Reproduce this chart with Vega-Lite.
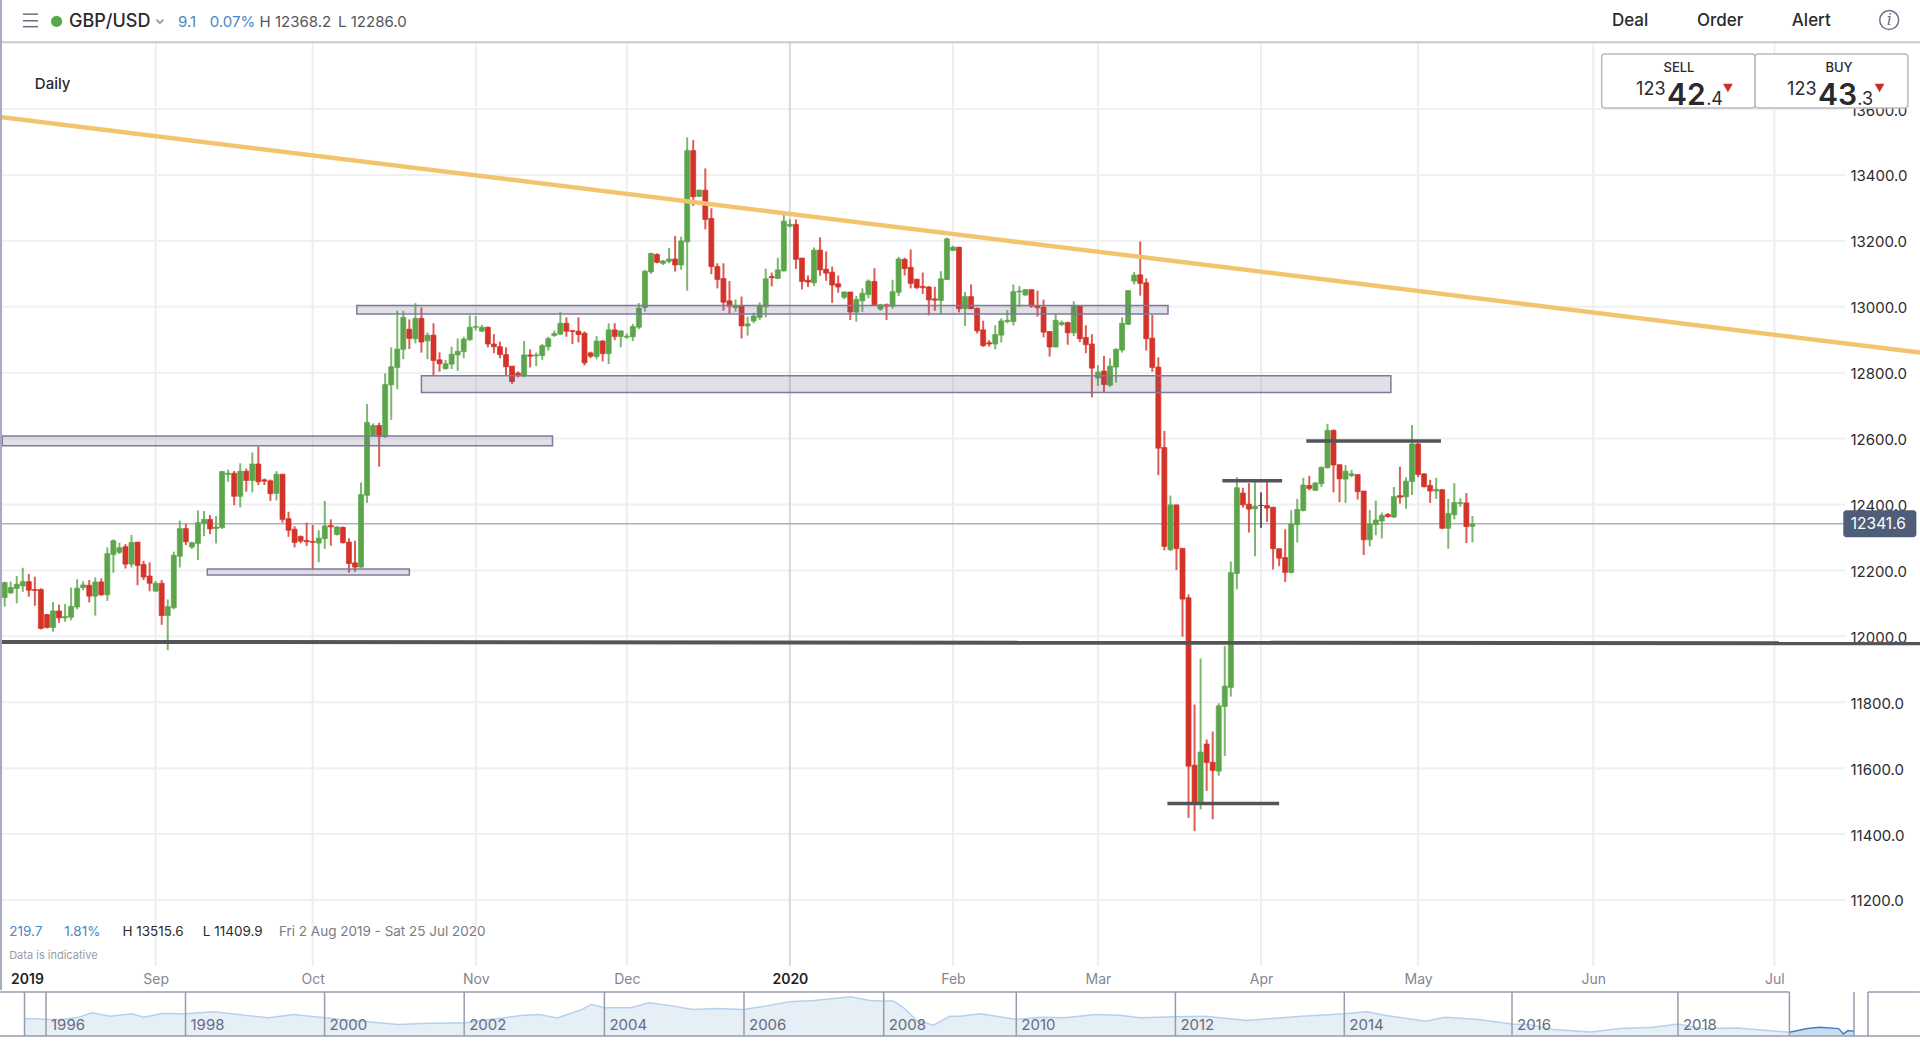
{"$schema":"https://vega.github.io/schema/vega-lite/v6.json","width":1920,"height":1042,"padding":0,"autosize":{"type":"none"},"background":"#ffffff",
"config":{"view":{"stroke":null},"text":{"font":"Inter"}},
"datasets":{
"candles":[
{"i":0,"o":12118,"h":12166,"l":12090,"c":12163},{"i":1,"o":12132,"h":12166,"l":12128,"c":12148},{"i":2,"o":12145,"h":12183,"l":12100,"c":12158},{"i":3,"o":12153,"h":12208,"l":12135,"c":12166},{"i":4,"o":12166,"h":12189,"l":12120,"c":12140},{"i":5,"o":12142,"h":12181,"l":12093,"c":12139},{"i":6,"o":12142,"h":12146,"l":12021,"c":12024},{"i":7,"o":12066,"h":12068,"l":12024,"c":12027},{"i":8,"o":12027,"h":12104,"l":12014,"c":12077},{"i":9,"o":12077,"h":12096,"l":12041,"c":12056},
{"i":10,"o":12056,"h":12098,"l":12044,"c":12060},{"i":11,"o":12058,"h":12148,"l":12049,"c":12091},{"i":12,"o":12089,"h":12173,"l":12082,"c":12146},{"i":13,"o":12148,"h":12167,"l":12140,"c":12156},{"i":14,"o":12155,"h":12171,"l":12103,"c":12122},{"i":15,"o":12122,"h":12179,"l":12063,"c":12165},{"i":16,"o":12165,"h":12176,"l":12123,"c":12126},{"i":17,"o":12126,"h":12270,"l":12108,"c":12251},{"i":18,"o":12248,"h":12294,"l":12193,"c":12290},{"i":19,"o":12255,"h":12284,"l":12250,"c":12269},
{"i":20,"o":12272,"h":12280,"l":12206,"c":12219},{"i":21,"o":12219,"h":12308,"l":12209,"c":12285},{"i":22,"o":12286,"h":12286,"l":12155,"c":12215},{"i":23,"o":12218,"h":12229,"l":12171,"c":12180},{"i":24,"o":12183,"h":12224,"l":12137,"c":12161},{"i":25,"o":12137,"h":12168,"l":12136,"c":12161},{"i":26,"o":12161,"h":12171,"l":12035,"c":12063},{"i":27,"o":12063,"h":12112,"l":11958,"c":12090},{"i":28,"o":12087,"h":12257,"l":12082,"c":12246},{"i":29,"o":12243,"h":12351,"l":12209,"c":12327},
{"i":30,"o":12327,"h":12341,"l":12277,"c":12287},{"i":31,"o":12271,"h":12287,"l":12265,"c":12284},{"i":32,"o":12282,"h":12382,"l":12232,"c":12345},{"i":33,"o":12343,"h":12380,"l":12304,"c":12355},{"i":34,"o":12355,"h":12368,"l":12310,"c":12326},{"i":35,"o":12327,"h":12365,"l":12282,"c":12332},{"i":36,"o":12330,"h":12502,"l":12326,"c":12500},{"i":37,"o":12491,"h":12506,"l":12469,"c":12495},{"i":38,"o":12495,"h":12502,"l":12398,"c":12425},{"i":39,"o":12425,"h":12525,"l":12391,"c":12501},
{"i":40,"o":12501,"h":12509,"l":12439,"c":12473},{"i":41,"o":12473,"h":12558,"l":12437,"c":12523},{"i":42,"o":12523,"h":12576,"l":12459,"c":12469},{"i":43,"o":12475,"h":12479,"l":12459,"c":12471},{"i":44,"o":12472,"h":12476,"l":12411,"c":12433},{"i":45,"o":12434,"h":12501,"l":12413,"c":12492},{"i":46,"o":12492,"h":12492,"l":12345,"c":12355},{"i":47,"o":12357,"h":12378,"l":12302,"c":12322},{"i":48,"o":12325,"h":12334,"l":12270,"c":12285},{"i":49,"o":12303,"h":12306,"l":12282,"c":12289},
{"i":50,"o":12291,"h":12345,"l":12274,"c":12287},{"i":51,"o":12288,"h":12338,"l":12203,"c":12285},{"i":52,"o":12283,"h":12322,"l":12225,"c":12298},{"i":53,"o":12296,"h":12411,"l":12265,"c":12335},{"i":54,"o":12336,"h":12355,"l":12275,"c":12332},{"i":55,"o":12309,"h":12334,"l":12306,"c":12332},{"i":56,"o":12331,"h":12333,"l":12282,"c":12284},{"i":57,"o":12286,"h":12298,"l":12193,"c":12221},{"i":58,"o":12223,"h":12290,"l":12196,"c":12210},{"i":59,"o":12210,"h":12467,"l":12208,"c":12430},
{"i":60,"o":12428,"h":12705,"l":12405,"c":12649},{"i":61,"o":12608,"h":12646,"l":12606,"c":12640},{"i":62,"o":12640,"h":12648,"l":12515,"c":12606},{"i":63,"o":12606,"h":12798,"l":12602,"c":12764},{"i":64,"o":12763,"h":12877,"l":12657,"c":12818},{"i":65,"o":12816,"h":12988,"l":12750,"c":12872},{"i":66,"o":12871,"h":12987,"l":12841,"c":12968},{"i":67,"o":12932,"h":12962,"l":12872,"c":12904},{"i":68,"o":12903,"h":13011,"l":12889,"c":12965},{"i":69,"o":12965,"h":12998,"l":12861,"c":12893},
{"i":70,"o":12897,"h":12922,"l":12841,"c":12914},{"i":71,"o":12914,"h":12950,"l":12790,"c":12837},{"i":72,"o":12839,"h":12862,"l":12803,"c":12827},{"i":73,"o":12812,"h":12839,"l":12810,"c":12827},{"i":74,"o":12826,"h":12879,"l":12811,"c":12856},{"i":75,"o":12854,"h":12904,"l":12806,"c":12865},{"i":76,"o":12864,"h":12909,"l":12844,"c":12902},{"i":77,"o":12900,"h":12974,"l":12897,"c":12938},{"i":78,"o":12938,"h":12972,"l":12928,"c":12940},{"i":79,"o":12926,"h":12945,"l":12923,"c":12938},
{"i":80,"o":12938,"h":12940,"l":12877,"c":12887},{"i":81,"o":12887,"h":12917,"l":12859,"c":12879},{"i":82,"o":12879,"h":12894,"l":12844,"c":12855},{"i":83,"o":12855,"h":12877,"l":12791,"c":12818},{"i":84,"o":12820,"h":12820,"l":12766,"c":12773},{"i":85,"o":12799,"h":12804,"l":12786,"c":12794},{"i":86,"o":12790,"h":12896,"l":12786,"c":12854},{"i":87,"o":12854,"h":12871,"l":12816,"c":12850},{"i":88,"o":12851,"h":12861,"l":12820,"c":12854},{"i":89,"o":12852,"h":12887,"l":12839,"c":12882},
{"i":90,"o":12879,"h":12909,"l":12867,"c":12903},{"i":91,"o":12913,"h":12928,"l":12909,"c":12919},{"i":92,"o":12917,"h":12984,"l":12914,"c":12950},{"i":93,"o":12950,"h":12968,"l":12909,"c":12926},{"i":94,"o":12928,"h":12928,"l":12887,"c":12925},{"i":95,"o":12926,"h":12968,"l":12892,"c":12916},{"i":96,"o":12920,"h":12925,"l":12822,"c":12830},{"i":97,"o":12860,"h":12864,"l":12844,"c":12850},{"i":98,"o":12849,"h":12911,"l":12841,"c":12896},{"i":99,"o":12896,"h":12899,"l":12834,"c":12858},
{"i":100,"o":12858,"h":12950,"l":12826,"c":12930},{"i":101,"o":12930,"h":12950,"l":12899,"c":12910},{"i":102,"o":12910,"h":12928,"l":12877,"c":12927},{"i":103,"o":12908,"h":12919,"l":12903,"c":12911},{"i":104,"o":12909,"h":12948,"l":12896,"c":12940},{"i":105,"o":12938,"h":13011,"l":12932,"c":12996},{"i":106,"o":12998,"h":13112,"l":12985,"c":13108},{"i":107,"o":13106,"h":13164,"l":13100,"c":13162},{"i":108,"o":13159,"h":13162,"l":13132,"c":13135},{"i":109,"o":13132,"h":13142,"l":13127,"c":13139},
{"i":110,"o":13138,"h":13179,"l":13132,"c":13145},{"i":111,"o":13145,"h":13215,"l":13107,"c":13127},{"i":112,"o":13127,"h":13213,"l":13112,"c":13200},{"i":113,"o":13197,"h":13514,"l":13049,"c":13474},{"i":114,"o":13474,"h":13506,"l":13306,"c":13334},{"i":115,"o":13335,"h":13356,"l":13333,"c":13354},{"i":116,"o":13354,"h":13420,"l":13235,"c":13265},{"i":117,"o":13268,"h":13299,"l":13099,"c":13122},{"i":118,"o":13122,"h":13132,"l":13056,"c":13083},{"i":119,"o":13086,"h":13132,"l":12988,"c":13014},
{"i":120,"o":13018,"h":13078,"l":12978,"c":13002},{"i":121,"o":12997,"h":13022,"l":12985,"c":13004},{"i":122,"o":13004,"h":13031,"l":12904,"c":12942},{"i":123,"o":12942,"h":12970,"l":12913,"c":12948},{"i":124,"o":12957,"h":12982,"l":12950,"c":12972},{"i":125,"o":12968,"h":13013,"l":12960,"c":13002},{"i":126,"o":13000,"h":13116,"l":12968,"c":13085},{"i":127,"o":13092,"h":13104,"l":13062,"c":13088},{"i":128,"o":13086,"h":13149,"l":13084,"c":13112},{"i":129,"o":13109,"h":13285,"l":13107,"c":13260},
{"i":130,"o":13245,"h":13265,"l":13241,"c":13250},{"i":131,"o":13250,"h":13265,"l":13115,"c":13144},{"i":132,"o":13148,"h":13148,"l":13053,"c":13077},{"i":133,"o":13081,"h":13095,"l":13060,"c":13075},{"i":134,"o":13073,"h":13180,"l":13063,"c":13172},{"i":135,"o":13172,"h":13211,"l":13094,"c":13112},{"i":136,"o":13114,"h":13168,"l":13079,"c":13102},{"i":137,"o":13105,"h":13122,"l":13012,"c":13066},{"i":138,"o":13070,"h":13095,"l":13043,"c":13060},{"i":139,"o":13029,"h":13047,"l":13023,"c":13045},
{"i":140,"o":13045,"h":13045,"l":12960,"c":12984},{"i":141,"o":12984,"h":13033,"l":12955,"c":13022},{"i":142,"o":13018,"h":13056,"l":12985,"c":13041},{"i":143,"o":13037,"h":13083,"l":13026,"c":13078},{"i":144,"o":13077,"h":13117,"l":13005,"c":13005},{"i":145,"o":12993,"h":13009,"l":12988,"c":13006},{"i":146,"o":13006,"h":13010,"l":12960,"c":13002},{"i":147,"o":13002,"h":13082,"l":12994,"c":13046},{"i":148,"o":13044,"h":13152,"l":13033,"c":13145},{"i":149,"o":13144,"h":13149,"l":13095,"c":13116},
{"i":150,"o":13120,"h":13174,"l":13056,"c":13071},{"i":151,"o":13084,"h":13084,"l":13054,"c":13058},{"i":152,"o":13062,"h":13104,"l":13039,"c":13058},{"i":153,"o":13060,"h":13063,"l":12974,"c":13021},{"i":154,"o":13024,"h":13061,"l":12988,"c":13020},{"i":155,"o":13019,"h":13108,"l":12978,"c":13085},{"i":156,"o":13083,"h":13210,"l":13081,"c":13206},{"i":157,"o":13171,"h":13185,"l":13169,"c":13181},{"i":158,"o":13181,"h":13181,"l":12983,"c":12994},{"i":159,"o":12995,"h":13045,"l":12942,"c":13031},
{"i":160,"o":13031,"h":13068,"l":12993,"c":12994},{"i":161,"o":12995,"h":12998,"l":12919,"c":12927},{"i":162,"o":12930,"h":12958,"l":12879,"c":12882},{"i":163,"o":12891,"h":12899,"l":12879,"c":12887},{"i":164,"o":12887,"h":12944,"l":12871,"c":12916},{"i":165,"o":12914,"h":12965,"l":12892,"c":12957},{"i":166,"o":12955,"h":12990,"l":12950,"c":12959},{"i":167,"o":12955,"h":13068,"l":12943,"c":13046},{"i":168,"o":13045,"h":13063,"l":13000,"c":13048},{"i":169,"o":13036,"h":13054,"l":13033,"c":13052},
{"i":170,"o":13052,"h":13052,"l":12997,"c":13002},{"i":171,"o":13004,"h":13049,"l":12970,"c":12997},{"i":172,"o":12999,"h":13022,"l":12907,"c":12923},{"i":173,"o":12925,"h":12925,"l":12849,"c":12878},{"i":174,"o":12878,"h":12978,"l":12877,"c":12959},{"i":175,"o":12946,"h":12958,"l":12942,"c":12952},{"i":176,"o":12952,"h":12955,"l":12885,"c":12921},{"i":177,"o":12921,"h":13017,"l":12911,"c":13002},{"i":178,"o":13002,"h":13002,"l":12893,"c":12903},{"i":179,"o":12907,"h":12944,"l":12859,"c":12885},
{"i":180,"o":12887,"h":12917,"l":12725,"c":12814},{"i":181,"o":12784,"h":12823,"l":12760,"c":12802},{"i":182,"o":12805,"h":12851,"l":12739,"c":12764},{"i":183,"o":12762,"h":12844,"l":12757,"c":12820},{"i":184,"o":12817,"h":12874,"l":12770,"c":12871},{"i":185,"o":12869,"h":12968,"l":12861,"c":12950},{"i":186,"o":12947,"h":13051,"l":12945,"c":13049},{"i":187,"o":13078,"h":13105,"l":13068,"c":13096},{"i":188,"o":13097,"h":13198,"l":13034,"c":13071},{"i":189,"o":13073,"h":13086,"l":12867,"c":12903},
{"i":190,"o":12905,"h":12975,"l":12803,"c":12816},{"i":191,"o":12817,"h":12847,"l":12489,"c":12571},{"i":192,"o":12573,"h":12623,"l":12261,"c":12273},{"i":193,"o":12263,"h":12427,"l":12259,"c":12399},{"i":194,"o":12399,"h":12399,"l":12201,"c":12266},{"i":195,"o":12267,"h":12267,"l":11999,"c":12113},{"i":196,"o":12117,"h":12127,"l":11449,"c":11606},{"i":197,"o":11609,"h":11793,"l":11409,"c":11493},{"i":198,"o":11491,"h":11933,"l":11475,"c":11649},{"i":199,"o":11673,"h":11687,"l":11531,"c":11617},
{"i":200,"o":11618,"h":11711,"l":11445,"c":11593},{"i":201,"o":11591,"h":11797,"l":11577,"c":11789},{"i":202,"o":11787,"h":11971,"l":11637,"c":11849},{"i":203,"o":11845,"h":12227,"l":11817,"c":12193},{"i":204,"o":12191,"h":12483,"l":12143,"c":12451},{"i":205,"o":12435,"h":12451,"l":12391,"c":12399},{"i":206,"o":12401,"h":12465,"l":12315,"c":12386},{"i":207,"o":12387,"h":12469,"l":12243,"c":12395},{"i":208,"o":12397,"h":12437,"l":12329,"c":12397},{"i":209,"o":12397,"h":12469,"l":12347,"c":12389},
{"i":210,"o":12392,"h":12392,"l":12203,"c":12266},{"i":211,"o":12266,"h":12266,"l":12213,"c":12237},{"i":212,"o":12239,"h":12325,"l":12165,"c":12194},{"i":213,"o":12194,"h":12383,"l":12191,"c":12341},{"i":214,"o":12339,"h":12417,"l":12285,"c":12385},{"i":215,"o":12382,"h":12481,"l":12379,"c":12459},{"i":216,"o":12458,"h":12487,"l":12443,"c":12449},{"i":217,"o":12443,"h":12469,"l":12441,"c":12465},{"i":218,"o":12463,"h":12515,"l":12453,"c":12513},{"i":219,"o":12512,"h":12645,"l":12509,"c":12625},
{"i":220,"o":12625,"h":12628,"l":12437,"c":12520},{"i":221,"o":12521,"h":12521,"l":12407,"c":12478},{"i":222,"o":12477,"h":12520,"l":12405,"c":12501},{"i":223,"o":12488,"h":12505,"l":12483,"c":12493},{"i":224,"o":12491,"h":12491,"l":12415,"c":12439},{"i":225,"o":12441,"h":12441,"l":12247,"c":12293},{"i":226,"o":12293,"h":12383,"l":12273,"c":12341},{"i":227,"o":12339,"h":12412,"l":12307,"c":12353},{"i":228,"o":12350,"h":12376,"l":12297,"c":12367},{"i":229,"o":12370,"h":12374,"l":12361,"c":12363},
{"i":230,"o":12362,"h":12453,"l":12359,"c":12424},{"i":231,"o":12427,"h":12515,"l":12403,"c":12422},{"i":232,"o":12423,"h":12483,"l":12387,"c":12471},{"i":233,"o":12470,"h":12641,"l":12429,"c":12584},{"i":234,"o":12584,"h":12587,"l":12483,"c":12491},{"i":235,"o":12493,"h":12495,"l":12452,"c":12454},{"i":236,"o":12458,"h":12475,"l":12405,"c":12441},{"i":237,"o":12441,"h":12481,"l":12417,"c":12446},{"i":238,"o":12445,"h":12447,"l":12325,"c":12328},{"i":239,"o":12328,"h":12417,"l":12266,"c":12373},
{"i":240,"o":12369,"h":12465,"l":12355,"c":12406},{"i":241,"o":12403,"h":12419,"l":12393,"c":12406},{"i":242,"o":12405,"h":12435,"l":12283,"c":12333},{"i":243,"o":12334,"h":12365,"l":12285,"c":12340}
],
"nav":[{"year":1995.69,"level":1.482},{"year":1995.87,"level":1.474},{"year":1996,"level":1.456},{"year":1996.22,"level":1.456},{"year":1996.44,"level":1.5},{"year":1996.66,"level":1.632},{"year":1996.92,"level":1.544},{"year":1997.23,"level":1.605},{"year":1997.4,"level":1.518},{"year":1997.67,"level":1.614},{"year":1998,"level":1.605},{"year":1998.41,"level":1.658},{"year":1998.85,"level":1.57},{"year":1999.2,"level":1.5},{"year":1999.55,"level":1.588},{"year":2000,"level":1.5},{"year":2000.35,"level":1.43},{"year":2000.7,"level":1.386},{"year":2001.05,"level":1.325},{"year":2001.5,"level":1.36},{"year":2001.84,"level":1.368},{"year":2002,"level":1.368},{"year":2002.37,"level":1.456},{"year":2002.81,"level":1.561},{"year":2003.07,"level":1.588},{"year":2003.33,"level":1.5},{"year":2003.68,"level":1.719},{"year":2003.81,"level":1.851},{"year":2004,"level":1.763},{"year":2004.38,"level":1.763},{"year":2004.64,"level":1.895},{"year":2005,"level":1.807},{"year":2005.26,"level":1.719},{"year":2005.6,"level":1.746},{"year":2006,"level":1.719},{"year":2006.3,"level":1.807},{"year":2006.65,"level":1.921},{"year":2007,"level":1.956},{"year":2007.53,"level":2.053},{"year":2007.8,"level":1.956},{"year":2008,"level":1.939},{"year":2008.15,"level":1.939},{"year":2008.3,"level":1.763},{"year":2008.5,"level":1.43},{"year":2008.75,"level":1.307},{"year":2009,"level":1.544},{"year":2009.15,"level":1.544},{"year":2009.45,"level":1.605},{"year":2009.7,"level":1.544},{"year":2010,"level":1.456},{"year":2010.3,"level":1.518},{"year":2010.6,"level":1.5},{"year":2011,"level":1.588},{"year":2011.3,"level":1.57},{"year":2011.55,"level":1.5},{"year":2012,"level":1.526},{"year":2012.35,"level":1.544},{"year":2012.85,"level":1.43},{"year":2013.15,"level":1.482},{"year":2013.5,"level":1.544},{"year":2014,"level":1.605},{"year":2014.27,"level":1.658},{"year":2014.5,"level":1.561},{"year":2014.97,"level":1.412},{"year":2015.2,"level":1.518},{"year":2015.6,"level":1.456},{"year":2016,"level":1.342},{"year":2016.2,"level":1.325},{"year":2016.5,"level":1.193},{"year":2016.95,"level":1.132},{"year":2017.3,"level":1.219},{"year":2017.7,"level":1.254},{"year":2018,"level":1.342},{"year":2018.35,"level":1.219},{"year":2018.85,"level":1.237},{"year":2019.59,"level":1.123}],
"navsel":[{"year":2019.59,"level":1.123},{"year":2019.86,"level":1.219},{"year":2020.05,"level":1.254},{"year":2020.33,"level":1.219},{"year":2020.4,"level":1.079},{"year":2020.47,"level":1.167},{"year":2020.56,"level":1.149}]
},
"layer":[
{"layer":[
{"data":{"values":[{"p":11200},{"p":11400},{"p":11600},{"p":11800},{"p":12000},{"p":12200},{"p":12400},{"p":12600},{"p":12800},{"p":13000},{"p":13200},{"p":13400},{"p":13600}]},
 "mark":{"type":"rule","color":"#f0f0f3","strokeWidth":2},
 "encoding":{
  "y":{"field":"p","type":"quantitative","scale":{"domain":[10769,13931],"nice":false,"zero":false,"padding":0},"axis":{"title":null,"orient":"right","offset":-70,"values":[11200,11400,11600,11800,12000,12200,12400,12600,12800,13000,13200,13400,13600],"format":".1f","domain":false,"ticks":false,"grid":false,"labelPadding":0,"labelOffset":1,"labelAlign":"left","labelBaseline":"middle","labelFont":"Inter","labelFontSize":15,"labelColor":"#2c2c30","labelBound":false,"labelOverlap":false}},
  "x":{"datum":-0.77,"type":"quantitative","scale":{"domain":[-0.77,317.1],"nice":false,"zero":false,"padding":0},"axis":{"title":null,"orient":"bottom","offset":-77,"values":[3.7,25,51,78,103,130,157,181,208,234,263,293],"labelExpr":"datum.value==3.7?'2019':datum.value==25?'Sep':datum.value==51?'Oct':datum.value==78?'Nov':datum.value==103?'Dec':datum.value==130?'2020':datum.value==157?'Feb':datum.value==181?'Mar':datum.value==208?'Apr':datum.value==234?'May':datum.value==263?'Jun':'Jul'","domain":false,"ticks":false,"grid":false,"labelPadding":7,"labelFont":"Inter","labelFontSize":14,"labelColor":{"condition":{"test":"datum.value==3.7||datum.value==130","value":"#1f1f22"},"value":"#85868f"},"labelFontWeight":{"condition":{"test":"datum.value==3.7||datum.value==130","value":600},"value":400},"labelBound":false,"labelOverlap":false,"labelFlush":false}},
  "x2":{"datum":304.7}}},
{"data":{"values":[{"m":"Sep","i":25},{"m":"Oct","i":51},{"m":"Nov","i":78},{"m":"Dec","i":103},{"m":"Feb","i":157},{"m":"Mar","i":181},{"m":"Apr","i":208},{"m":"May","i":234},{"m":"Jun","i":263},{"m":"Jul","i":293}]},
 "mark":{"type":"rule","color":"#eeeef1","strokeWidth":2},
 "encoding":{"x":{"field":"i","type":"quantitative"},"y":{"datum":13803},"y2":{"datum":11000}}},
{"data":{"values":[{"m":"2020","i":130}]},"mark":{"type":"rule","color":"#d9d9de","strokeWidth":2},
 "encoding":{"x":{"field":"i","type":"quantitative"},"y":{"datum":13803},"y2":{"datum":11000}}},
{"data":{"values":[{"p":12341.6}]},"mark":{"type":"rule","color":"#adb0c0","strokeWidth":1.5},
 "encoding":{"y":{"field":"p","type":"quantitative"},"x":{"datum":-0.77},"x2":{"datum":304.4}}},
{"data":{"name":"candles"},"mark":{"type":"rule","strokeWidth":2,"opacity":0.8},
 "encoding":{"x":{"field":"i","type":"quantitative"},"y":{"field":"h","type":"quantitative"},"y2":{"field":"l"},
  "color":{"condition":[{"test":"datum.c==datum.o","value":"#3a3a3e"},{"test":"datum.c>datum.o","value":"#5ba54b"}],"value":"#d4332a"}}},
{"data":{"name":"candles"},"mark":{"type":"bar","width":5,"orient":"vertical","strokeWidth":0.7},
 "encoding":{"x":{"field":"i","type":"quantitative"},"y":{"field":"o","type":"quantitative"},"y2":{"field":"c"},
  "color":{"condition":[{"test":"datum.c==datum.o","value":"#3a3a3e"},{"test":"datum.c>datum.o","value":"#5ba54b"}],"value":"#d4332a"},
  "stroke":{"condition":[{"test":"datum.c==datum.o","value":"#3a3a3e"},{"test":"datum.c>datum.o","value":"#5ba54b"}],"value":"#d4332a"}}},
{"data":{"values":[{"a":-0.4,"b":90.7,"top":12608,"bot":12578},{"a":58.3,"b":192.6,"top":13004,"bot":12978},{"a":69,"b":229.5,"top":12791,"bot":12740},{"a":33.55,"b":67,"top":12204,"bot":12186}]},
 "mark":{"type":"rect","fill":"#6e6488","fillOpacity":0.2,"stroke":"#7d7a9c","strokeWidth":1.5},
 "encoding":{"x":{"field":"a","type":"quantitative"},"x2":{"field":"b"},"y":{"field":"top","type":"quantitative"},"y2":{"field":"bot"}}},
{"data":{"values":[{"a":192.5,"b":211,"p":11493},{"a":201.6,"b":211.5,"p":12472},{"a":215.5,"b":237.8,"p":12593}]},
 "mark":{"type":"rule","color":"#555558","strokeWidth":3.5},
 "encoding":{"x":{"field":"a","type":"quantitative"},"x2":{"field":"b"},"y":{"field":"p","type":"quantitative"}}},
{"data":{"values":[{"i":-0.77,"p":11983},{"i":317.1,"p":11979}]},"mark":{"type":"line","color":"#555558","strokeWidth":4},
 "encoding":{"x":{"field":"i","type":"quantitative"},"y":{"field":"p","type":"quantitative"}}},
{"data":{"values":[{"i":-0.77,"p":13576},{"i":317.1,"p":12861}]},"mark":{"type":"line","color":"#f3c46e","strokeWidth":4.5},
 "encoding":{"x":{"field":"i","type":"quantitative"},"y":{"field":"p","type":"quantitative"}}},
{"data":{"values":[{"p":13803}]},"mark":{"type":"rule","color":"#c8c8d2","strokeWidth":2},
 "encoding":{"y":{"field":"p","type":"quantitative"},"x":{"datum":-0.77},"x2":{"datum":317.1}}},
{"data":{"values":[{"i":-0.6}]},"mark":{"type":"rule","color":"#a8a8c0","strokeWidth":2},
 "encoding":{"x":{"field":"i","type":"quantitative"},"y":{"datum":13931},"y2":{"datum":10927}}},
{"data":{"values":[{"a":3.03,"b":5.52,"p":13888},{"a":3.03,"b":5.52,"p":13868},{"a":3.03,"b":5.52,"p":13850}]},"mark":{"type":"rule","color":"#6b6f80","strokeWidth":1.5},
 "encoding":{"x":{"field":"a","type":"quantitative"},"x2":{"field":"b"},"y":{"field":"p","type":"quantitative"}}},
{"data":{"values":[{"i":8.6,"p":13866}]},"mark":{"type":"point","shape":"circle","filled":true,"size":125,"color":"#59a84a","opacity":1},
 "encoding":{"x":{"field":"i","type":"quantitative"},"y":{"field":"p","type":"quantitative"}}},
{"data":{"values":[{"i":25.7,"p":13866}]},"mark":{"type":"point","shape":"M-1,-0.5L0,0.5L1,-0.5","filled":false,"size":50,"color":"#9a9ca8","strokeWidth":2,"opacity":1},
 "encoding":{"x":{"field":"i","type":"quantitative"},"y":{"field":"p","type":"quantitative"}}},
{"data":{"values":[{"t":"GBP/USD","i":10.65,"p":13864}]},"mark":{"type":"text","align":"left","baseline":"middle","fontSize":18,"fontWeight":500,"color":"#2a2a2e"},
 "encoding":{"x":{"field":"i","type":"quantitative"},"y":{"field":"p","type":"quantitative"},"text":{"field":"t"}}},
{"data":{"values":[{"t":"9.1","i":28.7,"p":13864},{"t":"0.07%","i":33.95,"p":13864}]},"mark":{"type":"text","align":"left","baseline":"middle","fontSize":15,"color":"#4a86c5"},
 "encoding":{"x":{"field":"i","type":"quantitative"},"y":{"field":"p","type":"quantitative"},"text":{"field":"t"}}},
{"data":{"values":[{"t":"H 12368.2","i":42.2,"p":13864},{"t":"L 12286.0","i":55.2,"p":13864}]},"mark":{"type":"text","align":"left","baseline":"middle","fontSize":15,"color":"#55565c"},
 "encoding":{"x":{"field":"i","type":"quantitative"},"y":{"field":"p","type":"quantitative"},"text":{"field":"t"}}},
{"data":{"values":[{"t":"Daily","i":5.0,"p":13676}]},"mark":{"type":"text","align":"left","baseline":"middle","fontSize":15,"fontWeight":500,"color":"#2a2a2e"},
 "encoding":{"x":{"field":"i","type":"quantitative"},"y":{"field":"p","type":"quantitative"},"text":{"field":"t"}}},
{"data":{"values":[{"t":"Deal","i":269.1,"p":13868},{"t":"Order","i":284,"p":13868},{"t":"Alert","i":299.1,"p":13868}]},"mark":{"type":"text","align":"center","baseline":"middle","fontSize":17,"fontWeight":500,"color":"#2a2a2e"},
 "encoding":{"x":{"field":"i","type":"quantitative"},"y":{"field":"p","type":"quantitative"},"text":{"field":"t"}}},
{"data":{"values":[{"i":312,"p":13870}]},"mark":{"type":"point","shape":"circle","filled":false,"size":360,"color":"#6e7288","strokeWidth":1.5,"opacity":1},
 "encoding":{"x":{"field":"i","type":"quantitative"},"y":{"field":"p","type":"quantitative"}}},
{"data":{"values":[{"t":"i","i":312,"p":13870}]},"mark":{"type":"text","align":"center","baseline":"middle","fontSize":16,"font":"DejaVu Serif","fontStyle":"italic","color":"#6e7288"},
 "encoding":{"x":{"field":"i","type":"quantitative"},"y":{"field":"p","type":"quantitative"},"text":{"field":"t"}}},
{"data":{"values":[{"a":264.4,"b":289.8,"top":13767,"bot":13603},{"a":289.8,"b":315.1,"top":13767,"bot":13603}]},"mark":{"type":"rect","fill":"#ffffff","stroke":"#b9b9c2","strokeWidth":1.5,"cornerRadius":3},
 "encoding":{"x":{"field":"a","type":"quantitative"},"x2":{"field":"b"},"y":{"field":"top","type":"quantitative"},"y2":{"field":"bot"}}},
{"data":{"values":[{"t":"SELL","i":277.2,"p":13726},{"t":"BUY","i":303.7,"p":13726}]},"mark":{"type":"text","align":"center","baseline":"middle","fontSize":13,"fontWeight":500,"color":"#2a2a2e"},
 "encoding":{"x":{"field":"i","type":"quantitative"},"y":{"field":"p","type":"quantitative"},"text":{"field":"t"}}},
{"data":{"values":[{"t":"123","i":270.1,"p":13642.5},{"t":"123","i":295.1,"p":13642.5}]},"mark":{"type":"text","align":"left","baseline":"alphabetic","fontSize":18,"color":"#2a2a2e"},
 "encoding":{"x":{"field":"i","type":"quantitative"},"y":{"field":"p","type":"quantitative"},"text":{"field":"t"}}},
{"data":{"values":[{"t":"42","i":275.2,"p":13612},{"t":"43","i":300.2,"p":13612}]},"mark":{"type":"text","align":"left","baseline":"alphabetic","fontSize":30,"fontWeight":600,"color":"#2a2a2e"},
 "encoding":{"x":{"field":"i","type":"quantitative"},"y":{"field":"p","type":"quantitative"},"text":{"field":"t"}}},
{"data":{"values":[{"t":".4","i":281.7,"p":13612},{"t":".3","i":306.7,"p":13612}]},"mark":{"type":"text","align":"left","baseline":"alphabetic","fontSize":18,"color":"#2a2a2e"},
 "encoding":{"x":{"field":"i","type":"quantitative"},"y":{"field":"p","type":"quantitative"},"text":{"field":"t"}}},
{"data":{"values":[{"i":285.3,"p":13664},{"i":310.4,"p":13664}]},"mark":{"type":"point","shape":"triangle-down","filled":true,"size":95,"color":"#c62f2b","opacity":1},
 "encoding":{"x":{"field":"i","type":"quantitative"},"y":{"field":"p","type":"quantitative"}}},
{"data":{"values":[{"a":304.4,"b":316.5,"top":12383,"bot":12301}]},"mark":{"type":"rect","fill":"#4f5d78","cornerRadius":3},
 "encoding":{"x":{"field":"a","type":"quantitative"},"x2":{"field":"b"},"y":{"field":"top","type":"quantitative"},"y2":{"field":"bot"}}},
{"data":{"values":[{"t":"12341.6","i":310.2,"p":12341.6}]},"mark":{"type":"text","align":"center","baseline":"middle","fontSize":15.5,"color":"#ffffff"},
 "encoding":{"x":{"field":"i","type":"quantitative"},"y":{"field":"p","type":"quantitative"},"text":{"field":"t"}}},
{"data":{"values":[{"t":"219.7","i":0.75,"p":11103},{"t":"1.81%","i":9.87,"p":11103}]},"mark":{"type":"text","align":"left","baseline":"middle","fontSize":13.5,"color":"#4a86c5"},
 "encoding":{"x":{"field":"i","type":"quantitative"},"y":{"field":"p","type":"quantitative"},"text":{"field":"t"}}},
{"data":{"values":[{"t":"H 13515.6","i":19.5,"p":11103},{"t":"L 11409.9","i":32.8,"p":11103}]},"mark":{"type":"text","align":"left","baseline":"middle","fontSize":13.5,"color":"#2c2c30"},
 "encoding":{"x":{"field":"i","type":"quantitative"},"y":{"field":"p","type":"quantitative"},"text":{"field":"t"}}},
{"data":{"values":[{"t":"Fri 2 Aug 2019 - Sat 25 Jul 2020","i":45.4,"p":11103}]},"mark":{"type":"text","align":"left","baseline":"middle","fontSize":13.5,"color":"#7a7b84"},
 "encoding":{"x":{"field":"i","type":"quantitative"},"y":{"field":"p","type":"quantitative"},"text":{"field":"t"}}},
{"data":{"values":[{"t":"Data is indicative","i":0.75,"p":11030}]},"mark":{"type":"text","align":"left","baseline":"middle","fontSize":11,"color":"#9a9ba3"},
 "encoding":{"x":{"field":"i","type":"quantitative"},"y":{"field":"p","type":"quantitative"},"text":{"field":"t"}}}
]},
{"layer":[
{"data":{"name":"nav"},"mark":{"type":"area","color":"#e6eef6"},
 "encoding":{"x":{"field":"year","type":"quantitative","axis":null,"scale":{"domain":[1995.69,1996,1998,2000,2002,2004,2006,2008,2010,2012,2014,2016,2018,2019.59,2020.56],"range":[24.5,46,185.5,324.6,464.2,604.4,744,883.7,1016.3,1175.4,1344.3,1512,1677.9,1789.4,1854],"nice":false,"zero":false}},"y":{"field":"level","type":"quantitative","axis":null,"scale":{"domain":[1.026,2.176],"range":[1036,992],"nice":false,"zero":false}},"y2":{"datum":1.026}}},
{"data":{"name":"nav"},"mark":{"type":"line","color":"#b7d1ec","strokeWidth":1.5},
 "encoding":{"x":{"field":"year","type":"quantitative","axis":null},"y":{"field":"level","type":"quantitative","axis":null}}},
{"data":{"name":"navsel"},"mark":{"type":"area","color":"#c9dcf0"},
 "encoding":{"x":{"field":"year","type":"quantitative","axis":null},"y":{"field":"level","type":"quantitative","axis":null},"y2":{"datum":1.026}}},
{"data":{"name":"navsel"},"mark":{"type":"line","color":"#4a7fbf","strokeWidth":1.5},
 "encoding":{"x":{"field":"year","type":"quantitative","axis":null},"y":{"field":"level","type":"quantitative","axis":null}}},
{"data":{"values":[{"a":1995.33,"b":2019.59,"lv":2.176},{"a":2020.77,"b":2021.55,"lv":2.176},{"a":1995.33,"b":2021.55,"lv":1.026}]},"mark":{"type":"rule","color":"#9a9aae","strokeWidth":1.5},
 "encoding":{"x":{"field":"a","type":"quantitative","axis":null},"x2":{"field":"b"},"y":{"field":"lv","type":"quantitative","axis":null}}},
{"data":{"values":[{"year":1995.69},{"year":1996},{"year":1998},{"year":2000},{"year":2002},{"year":2004},{"year":2006},{"year":2008},{"year":2010},{"year":2012},{"year":2014},{"year":2016},{"year":2018},{"year":2019.59},{"year":2020.56},{"year":2020.77}]},"mark":{"type":"rule","color":"#9a9aae","strokeWidth":1.5},
 "encoding":{"x":{"field":"year","type":"quantitative","axis":null},"y":{"datum":2.176,"axis":null},"y2":{"datum":1.026}}},
{"data":{"values":[{"year":1996,"t":"1996"},{"year":1998,"t":"1998"},{"year":2000,"t":"2000"},{"year":2002,"t":"2002"},{"year":2004,"t":"2004"},{"year":2006,"t":"2006"},{"year":2008,"t":"2008"},{"year":2010,"t":"2010"},{"year":2012,"t":"2012"},{"year":2014,"t":"2014"},{"year":2016,"t":"2016"},{"year":2018,"t":"2018"}]},"mark":{"type":"text","align":"left","baseline":"middle","dx":5,"fontSize":15,"color":"#666b80"},
 "encoding":{"x":{"field":"year","type":"quantitative","axis":null},"y":{"datum":1.308,"axis":null},"text":{"field":"t"}}}
]}
],
"resolve":{"scale":{"x":"independent","y":"independent"}}
}
